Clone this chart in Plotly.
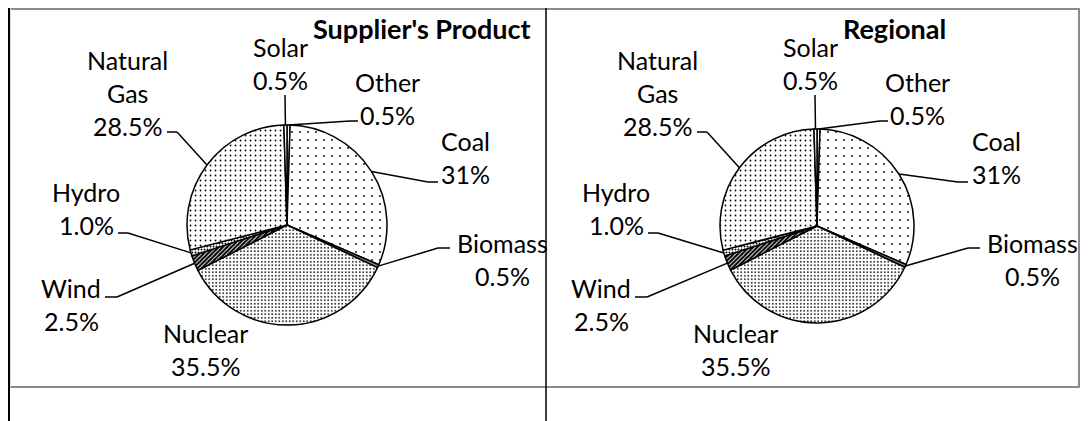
import math
import plotly.graph_objects as go

# ---------------- data ----------------
categories = ["Other", "Coal", "Biomass", "Nuclear", "Wind", "Hydro", "Natural Gas", "Solar"]
supplier_values = [0.5, 31, 0.5, 35.5, 2.5, 1.0, 28.5, 0.5]
regional_values = [0.5, 31, 0.5, 35.5, 2.5, 1.0, 28.5, 0.5]
pct_labels = ["0.5%", "31%", "0.5%", "35.5%", "2.5%", "1.0%", "28.5%", "0.5%"]
name_lines = [["Other"], ["Coal"], ["Biomass"], ["Nuclear"], ["Wind"], ["Hydro"],
              ["Natural", "Gas"], ["Solar"]]
titles = ["Supplier's Product", "Regional"]

# ---------------- styling / layout ----------------
OFF = 8                      # page body margin
W, H = 1082, 413
FONT = "Lato"
FS = 25
FS_TITLE = 27

patterns = {
    "Other": dict(shape="", fgcolor="black", bgcolor="white"),
    "Coal": dict(shape=".", size=8, solidity=0.04, fgcolor="black", bgcolor="white"),
    "Biomass": dict(shape="", fgcolor="black", bgcolor="#888888"),
    "Nuclear": dict(shape=".", size=3.5, solidity=0.2, fgcolor="black", bgcolor="white"),
    "Wind": dict(shape="/", size=3, solidity=0.7, fgcolor="black", bgcolor="white"),
    "Hydro": dict(shape=".", size=3, solidity=0.3, fgcolor="black", bgcolor="white"),
    "Natural Gas": dict(shape=".", size=5, solidity=0.1, fgcolor="black", bgcolor="white"),
    "Solar": dict(shape="", fgcolor="black", bgcolor="white"),
}

# label placement for the left pane (page pixels); right pane shifted by dx
label_pos = {
    "Other": dict(x=387, y0=82, path=[(358, 121), (350, 121)]),
    "Coal": dict(x=466, y0=141, path=[(438, 182), (428, 182)]),
    "Biomass": dict(x=502, y0=243, path=[(450, 248), (438, 248)]),
    "Nuclear": dict(x=205, y0=333, path=None),
    "Wind": dict(x=71, y0=288, path=[(105, 297), (117, 297)]),
    "Hydro": dict(x=86, y0=192, path=[(118, 233), (128, 233)]),
    "Natural Gas": dict(x=127, y0=60, path=[(167, 132), (177, 132)]),
    "Solar": dict(x=280, y0=47, path=[(285, 95)]),
}
LINE_GAP = 33

panes = [
    dict(values=supplier_values, cx=287, cy=225, r=100, dx=0, title=titles[0], tx=421.5),
    dict(values=regional_values, cx=817, cy=226, r=97, dx=530, title=titles[1], tx=894.5),
]


def px(x):
    return (x - OFF) / W


def py(y):
    return 1 - (y - OFF) / H


fig = go.Figure()
annotations = []
shapes = []

for pane in panes:
    cx, cy, r, dx = pane["cx"], pane["cy"], pane["r"], pane["dx"]
    fig.add_trace(go.Pie(
        labels=categories,
        values=pane["values"],
        sort=False,
        direction="clockwise",
        rotation=0,
        textinfo="none",
        showlegend=False,
        domain=dict(x=[px(cx - r), px(cx + r)], y=[py(cy + r), py(cy - r)]),
        marker=dict(
            colors=[patterns[c]["bgcolor"] for c in categories],
            line=dict(color="black", width=1.5),
            pattern=dict(
                shape=[patterns[c]["shape"] for c in categories],
                size=[patterns[c].get("size", 8) for c in categories],
                solidity=[patterns[c].get("solidity", 0.3) for c in categories],
                fgcolor=[patterns[c]["fgcolor"] for c in categories],
                bgcolor=[patterns[c]["bgcolor"] for c in categories],
                fillmode="replace",
            ),
        ),
    ))

    total = sum(pane["values"])
    cum = 0.0
    for cat, val, pct, nl in zip(categories, pane["values"], pct_labels, name_lines):
        mid = (cum + val / 2) / total * 2 * math.pi
        cum += val
        ex = cx + r * math.sin(mid)
        ey = cy - r * math.cos(mid)
        lp = label_pos[cat]
        lines = nl + [pct]
        for i, t in enumerate(lines):
            annotations.append(dict(
                x=px(lp["x"] + dx), y=py(lp["y0"] + i * LINE_GAP),
                xref="paper", yref="paper", text=t, showarrow=False,
                xanchor="center", yanchor="middle",
                font=dict(family=FONT, size=FS, color="black"),
            ))
        if lp["path"]:
            pts = [(x + dx, y) for x, y in lp["path"]] + [(ex, ey)]
            for (x0, y0), (x1, y1) in zip(pts[:-1], pts[1:]):
                shapes.append(dict(type="line", xref="paper", yref="paper",
                                   x0=px(x0), y0=py(y0), x1=px(x1), y1=py(y1),
                                   line=dict(color="black", width=1.5)))

    annotations.append(dict(
        x=px(pane["tx"]), y=py(29), xref="paper", yref="paper",
        text="<b>" + pane["title"] + "</b>", showarrow=False,
        xanchor="center", yanchor="middle",
        font=dict(family=FONT, size=FS_TITLE, color="black"),
    ))


# table borders
def seg(x0, y0, x1, y1, color, width):
    shapes.append(dict(type="line", xref="paper", yref="paper",
                       x0=px(x0), y0=py(y0), x1=px(x1), y1=py(y1),
                       line=dict(color=color, width=width)))


seg(8, 9, 1080, 9, "#8c8c8c", 2)
seg(8, 387, 1080, 387, "#8c8c8c", 2)
seg(1079, 8, 1079, 387, "#8c8c8c", 2)
seg(10.5, 8, 10.5, 387, "#dddddd", 1)
seg(9, 8, 9, 421, "black", 2)
seg(546, 8, 546, 421, "black", 1.5)
seg(1088, 8, 1088, 421, "black", 2.5)

fig.update_layout(
    width=W, height=H,
    margin=dict(l=0, r=0, t=0, b=0),
    paper_bgcolor="white", plot_bgcolor="white",
    annotations=annotations, shapes=shapes,
    font=dict(family=FONT),
)
fig.write_html("out.html")
